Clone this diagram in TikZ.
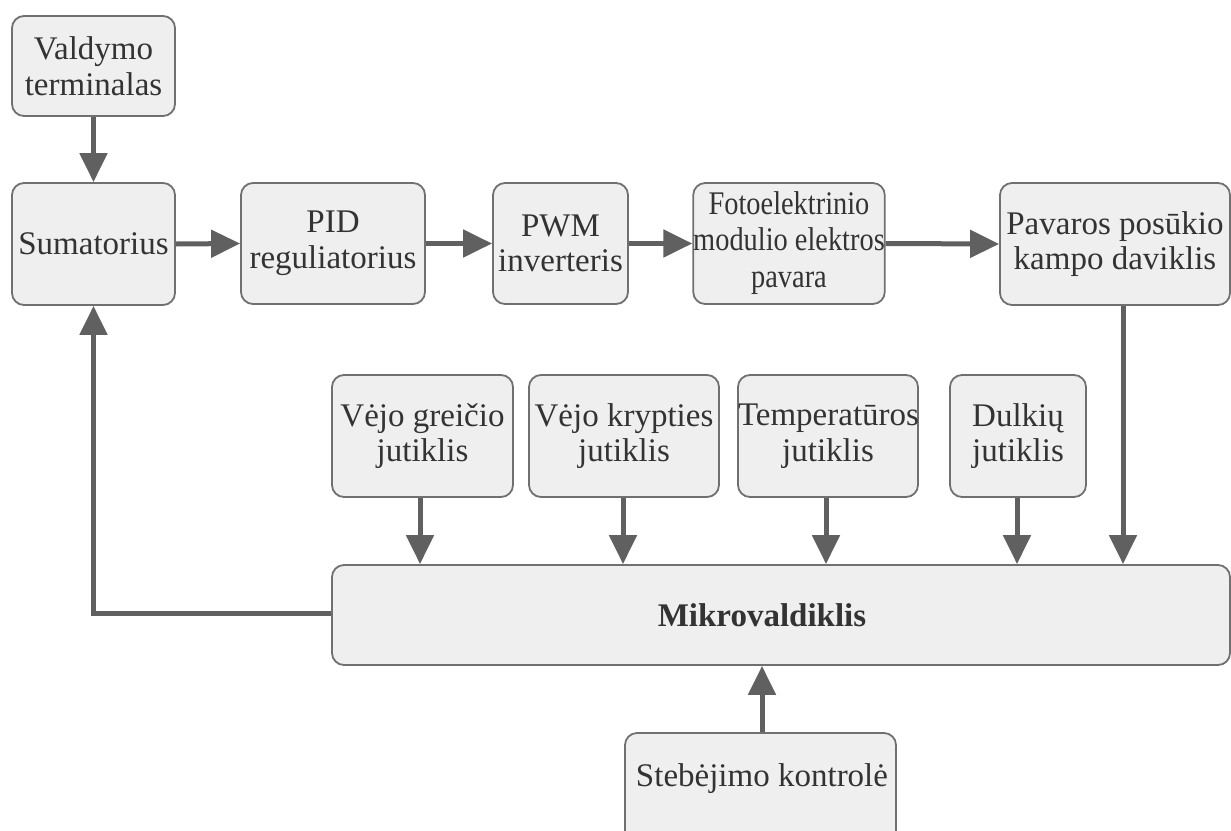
\documentclass[tikz,border=0pt]{standalone}
\usepackage{fontspec}
\usepackage{graphicx}
\setmainfont{Liberation Serif}
\usetikzlibrary{arrows.meta}
\definecolor{boxfill}{HTML}{EFEFEF}
\definecolor{boxline}{HTML}{707070}
\definecolor{wire}{HTML}{606060}
\definecolor{ink}{HTML}{333333}
\begin{document}
\begin{tikzpicture}[x=1pt,y=-1pt,
  block/.style={draw=boxline, line width=1.8pt, fill=boxfill, rounded corners=12pt,
    text=ink, align=center, inner sep=0pt, font=\fontsize{33}{35.5}\selectfont},
  flow/.style={draw=wire, line width=5pt, -{Triangle[length=29pt,width=27pt]}}]
\useasboundingbox (0,0) rectangle (1231,830);
\begin{scope}
\clip (0,0) rectangle (1231,830);
% top row
\node[block, minimum width=163pt, minimum height=100pt] (val) at (93.5,66) {Valdymo\\terminalas};
\node[block, minimum width=163pt, minimum height=122pt] (sum) at (93.5,244) {Sumatorius};
\node[block, minimum width=184pt, minimum height=121pt] (pid) at (333,243.5) {PID\\reguliatorius};
\node[block, minimum width=135pt, minimum height=121pt] (pwm) at (560.5,243.5) {PWM\\inverteris};
\node[block, minimum width=188pt, minimum height=121pt, font=\fontsize{33}{36.5}\selectfont] (foto) at (789,243.5)
  {\scalebox{0.86}[1]{\begin{tabular}{@{}c@{}}Fotoelektrinio\\modulio elektros\\pavara\end{tabular}}};
\node[block, minimum width=230pt, minimum height=122pt] (pav) at (1115,244) {Pavaros posūkio\\kampo daviklis};
% sensors
\node[block, minimum width=181pt, minimum height=122pt] (vg) at (422.5,436) {Vėjo greičio\\jutiklis};
\node[block, minimum width=190pt, minimum height=122pt] (vk) at (624,436) {Vėjo krypties\\jutiklis};
\node[block, minimum width=180pt, minimum height=122pt, text width=180pt] (temp) at (828,436) {Temperatūros\\jutiklis};
\node[block, minimum width=136pt, minimum height=122pt] (dulk) at (1018,436) {Dulkių\\jutiklis};
% controller
\node[block, minimum width=898pt, minimum height=100pt] (mik) at (781,615) {};
\node[text=ink, font=\fontsize{33}{35.5}\selectfont\bfseries] (miktxt) at (762,615) {Mikrovaldiklis};
\node[block, minimum width=271pt, minimum height=110pt] (steb) at (760.5,788) {};
\node[text=ink, font=\fontsize{33}{35.5}\selectfont] (stebtxt) at (762,779) {Stebėjimo kontrolė};
% connectors
\draw[flow] (val.south) -- (sum.north);
\draw[flow] (sum.east) -- (pid.west);
\draw[flow] (pid.east) -- (pwm.west);
\draw[flow] (pwm.east) -- (foto.west);
\draw[flow] (foto.east) -- (pav.west);
\draw[flow] ([xshift=-2.5pt]vg.south) -- ([xshift=-2.5pt]vg.south |- mik.north);
\draw[flow] ([xshift=-1pt]vk.south) -- ([xshift=-1pt]vk.south |- mik.north);
\draw[flow] ([xshift=-2pt]temp.south) -- ([xshift=-2pt]temp.south |- mik.north);
\draw[flow] ([xshift=-1pt]dulk.south) -- ([xshift=-1pt]dulk.south |- mik.north);
\draw[flow] ([xshift=8pt]pav.south) -- ([xshift=8pt]pav.south |- mik.north);
\draw[flow] ([xshift=1.5pt]steb.north) -- ([xshift=1.5pt]steb.north |- mik.south);
\draw[flow] ([yshift=2pt]mik.west) -| (sum.south);
\end{scope}
\end{tikzpicture}
\end{document}
